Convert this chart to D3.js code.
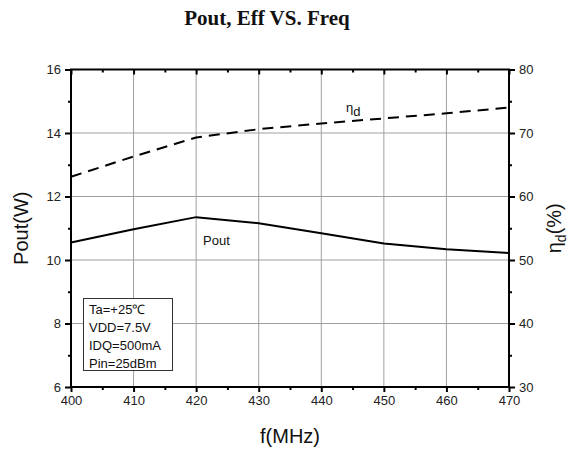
<!DOCTYPE html>
<html>
<head>
<meta charset="utf-8">
<script src="https://cdn.jsdelivr.net/npm/d3@7"></script>
<style>
  html, body { margin: 0; padding: 0; background: #fff; }
  svg { display: block; }
  text { font-family: Arial, "Liberation Sans", sans-serif; fill: #111; }
</style>
</head>
<body>
<script>
// Frequency sweep (MHz)
const freq = [400, 410, 420, 430, 440, 450, 460, 470];
// Output power (W)
const pout = [10.55, 10.97, 11.35, 11.16, 10.84, 10.52, 10.34, 10.22];
// Drain efficiency (%)
const eff = [63.1, 66.3, 69.3, 70.6, 71.5, 72.3, 73.1, 74.0];

const xTicks = [400, 410, 420, 430, 440, 450, 460, 470];
const yLeftTicks = [6, 8, 10, 12, 14, 16];
const yRightTicks = [30, 40, 50, 60, 70, 80];
const conditions = ["Ta=+25\u2103", "VDD=7.5V", "IDQ=500mA", "Pin=25dBm"];

const W = 579, H = 454;
const m = { left: 71, right: 509, top: 69.5, bottom: 387 };

const svg = d3.select("body").append("svg").attr("width", W).attr("height", H);

const x = d3.scaleLinear().domain([400, 470]).range([m.left, m.right]);
const yL = d3.scaleLinear().domain([6, 16]).range([m.bottom, m.top]);
const yR = d3.scaleLinear().domain([30, 80]).range([m.bottom, m.top]);

// Title
svg.append("text")
  .attr("x", 267).attr("y", 25)
  .attr("text-anchor", "middle")
  .style("font-family", "'Liberation Serif', 'Times New Roman', serif")
  .style("font-weight", "bold")
  .style("font-size", "21px")
  .text("Pout, Eff VS. Freq");

// Grid
const grid = svg.append("g").attr("stroke", "#a0a0a0").attr("stroke-width", 1);
grid.selectAll("line.gx").data(xTicks.slice(1, -1)).join("line")
  .attr("x1", d => x(d)).attr("x2", d => x(d))
  .attr("y1", m.top).attr("y2", m.bottom);
grid.selectAll("line.gy").data(yLeftTicks.slice(1, -1)).join("line")
  .attr("y1", d => yL(d)).attr("y2", d => yL(d))
  .attr("x1", m.left).attr("x2", m.right);

// Conditions box
const box = svg.append("g");
box.append("rect")
  .attr("x", 83.5).attr("y", 298.5).attr("width", 89).attr("height", 72)
  .attr("fill", "#fff").attr("stroke", "#333").attr("stroke-width", 1);
box.selectAll("text").data(conditions).join("text")
  .attr("x", 89).attr("y", (d, i) => 314 + i * 18)
  .style("font-size", "13px")
  .text(d => d);

// Curves
const lineP = d3.line().x((d, i) => x(freq[i])).y(d => yL(d));
const lineE = d3.line().x((d, i) => x(freq[i])).y(d => yR(d));

svg.append("path").datum(pout)
  .attr("d", lineP).attr("fill", "none")
  .attr("stroke", "#000").attr("stroke-width", 2);
svg.append("path").datum(eff)
  .attr("d", lineE).attr("fill", "none")
  .attr("stroke", "#000").attr("stroke-width", 2)
  .attr("stroke-dasharray", "11,7");

// Curve labels
svg.append("text").attr("x", 203).attr("y", 245)
  .style("font-size", "13px").text("Pout");
const etaLbl = svg.append("text").attr("x", 346).attr("y", 112).style("font-size", "13px");
etaLbl.append("tspan").text("\u03b7");
etaLbl.append("tspan").attr("dy", 4).style("font-size", "13px").text("d");

// Axes
function styleAxis(g) {
  g.select(".domain").remove();
  g.selectAll("line").attr("stroke", "#000").attr("stroke-width", 2);
  g.selectAll("text").style("font-size", "13px").style("fill", "#222")
    .style("font-family", "Arial, 'Liberation Sans', sans-serif");
}

const xMinor = d3.range(405, 470, 10);
const yLMinor = d3.range(7, 16, 2);
const yRMinor = d3.range(35, 80, 10);

// bottom
const gB = svg.append("g").attr("transform", `translate(0,${m.bottom})`)
  .call(d3.axisBottom(x).tickValues(xTicks).tickFormat(d3.format("d")).tickSize(5).tickPadding(4));
styleAxis(gB);
svg.append("g").attr("transform", `translate(0,${m.bottom})`)
  .call(d3.axisBottom(x).tickValues(xMinor).tickFormat("").tickSize(3)).call(styleAxis);
// top
svg.append("g").attr("transform", `translate(0,${m.top})`)
  .call(d3.axisBottom(x).tickValues(xTicks).tickFormat("").tickSize(5)).call(styleAxis);
svg.append("g").attr("transform", `translate(0,${m.top})`)
  .call(d3.axisBottom(x).tickValues(xMinor).tickFormat("").tickSize(3)).call(styleAxis);
// left
const gL = svg.append("g").attr("transform", `translate(${m.left},0)`)
  .call(d3.axisLeft(yL).tickValues(yLeftTicks).tickFormat(d3.format("d")).tickSize(6).tickPadding(4));
styleAxis(gL);
svg.append("g").attr("transform", `translate(${m.left},0)`)
  .call(d3.axisLeft(yL).tickValues(yLMinor).tickFormat("").tickSize(3)).call(styleAxis);
// right
const gR = svg.append("g").attr("transform", `translate(${m.right},0)`)
  .call(d3.axisRight(yR).tickValues(yRightTicks).tickFormat(d3.format("d")).tickSize(6).tickPadding(4));
styleAxis(gR);
svg.append("g").attr("transform", `translate(${m.right},0)`)
  .call(d3.axisRight(yR).tickValues(yRMinor).tickFormat("").tickSize(3)).call(styleAxis);

// Frame
svg.append("rect")
  .attr("x", m.left).attr("y", m.top)
  .attr("width", m.right - m.left).attr("height", m.bottom - m.top)
  .attr("fill", "none").attr("stroke", "#000").attr("stroke-width", 2);

// Axis titles
svg.append("text").attr("x", 290).attr("y", 443)
  .attr("text-anchor", "middle").style("font-size", "20px").text("f(MHz)");
svg.append("text")
  .attr("transform", `translate(28,${(m.top + m.bottom) / 2}) rotate(-90)`)
  .attr("text-anchor", "middle").style("font-size", "20px").text("Pout(W)");
const rl = svg.append("text")
  .attr("transform", `translate(561,${(m.top + m.bottom) / 2}) rotate(-90)`)
  .attr("text-anchor", "middle").style("font-size", "20px");
rl.append("tspan").text("\u03b7");
rl.append("tspan").attr("dy", 5).style("font-size", "14px").text("d");
rl.append("tspan").attr("dy", -5).text("(%)");
</script>
</body>
</html>
